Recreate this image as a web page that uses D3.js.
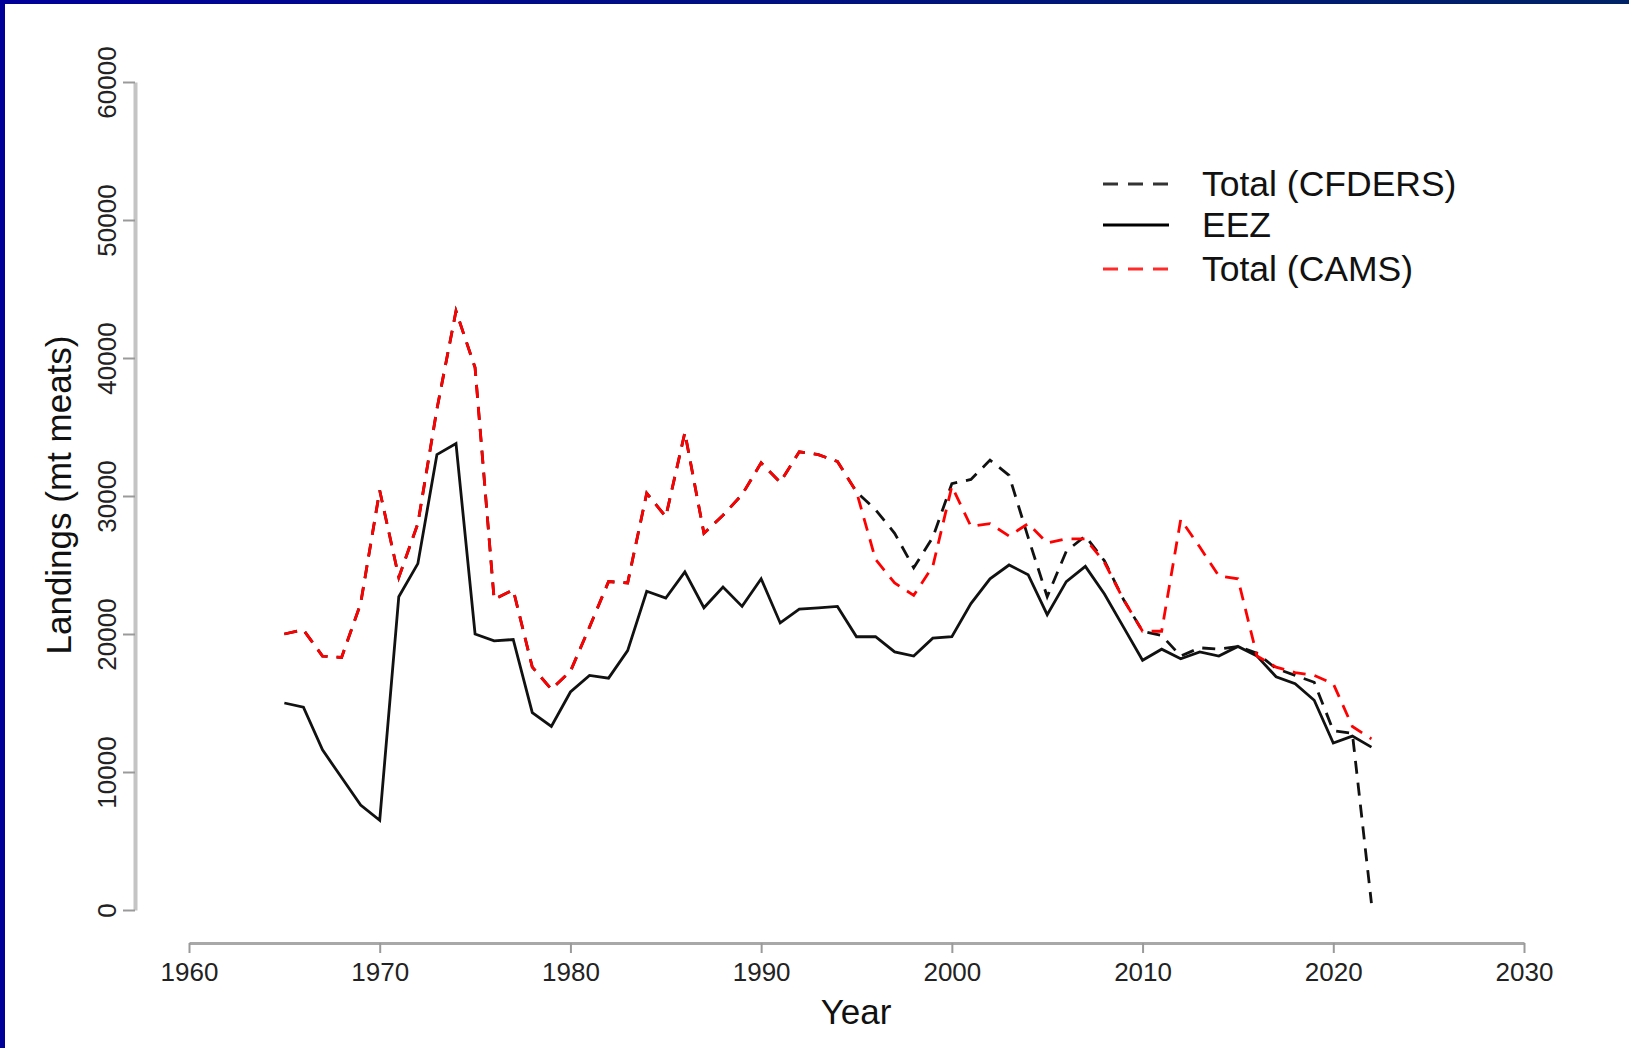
<!DOCTYPE html>
<html>
<head>
<meta charset="utf-8">
<script src="https://cdn.jsdelivr.net/npm/d3@7"></script>
<style>
  html, body { margin: 0; padding: 0; background: #ffffff; }
  svg { display: block; }
  text { font-family: "Liberation Sans", Arial, sans-serif; }
</style>
</head>
<body>
<svg id="chart" width="1629" height="1048"></svg>
<script>
// ---------------- data ----------------
const years = [1965,1966,1967,1968,1969,1970,1971,1972,1973,1974,1975,1976,1977,1978,1979,
  1980,1981,1982,1983,1984,1985,1986,1987,1988,1989,1990,1991,1992,1993,1994,1995,1996,1997,
  1998,1999,2000,2001,2002,2003,2004,2005,2006,2007,2008,2009,2010,2011,2012,2013,2014,2015,
  2016,2017,2018,2019,2020,2021,2022];

const eez = [15000,14700,11600,9600,7600,6500,22700,25100,33000,33800,20000,19500,19600,14300,13300,
  15800,17000,16800,18800,23100,22600,24500,21900,23400,22000,24000,20800,21800,21900,22000,19800,19800,18700,
  18400,19700,19800,22200,24000,25000,24300,21400,23800,24900,22900,20500,18100,18900,18200,18700,18400,19100,
  18400,16900,16400,15200,12100,12600,11800];

const totalCAMS = [20000,20300,18400,18300,22200,30400,24100,28000,36300,43400,39300,22500,23200,17600,16000,
  17300,20500,23800,23700,30200,28500,34600,27300,28600,30100,32400,31000,33200,33000,32500,30300,25400,23700,
  22800,24900,30700,27800,28000,27100,28000,26600,26900,26900,25200,22500,20200,20200,28300,26300,24200,24000,
  18400,17600,17200,17000,16400,13300,12400];

const totalCFDERS = [20000,20300,18400,18300,22200,30400,24100,28000,36300,43400,39300,22500,23200,17600,16000,
  17300,20500,23800,23700,30200,28500,34600,27300,28600,30100,32400,31000,33200,33000,32500,30300,29000,27300,
  24800,27000,30900,31200,32600,31500,27000,22700,26000,27100,25300,22500,20200,19900,18400,19000,18900,19100,
  18600,17500,17000,16500,13000,12800,500];

const xTicks = [1960,1970,1980,1990,2000,2010,2020,2030];
const yTicks = [0,10000,20000,30000,40000,50000,60000];
const legendLabels = ["Total (CFDERS)", "EEZ", "Total (CAMS)"];

// ---------------- drawing ----------------
const svg = d3.select("#chart");

// frame (blue border top and left)
const defs = svg.append("defs");
const grad = defs.append("linearGradient").attr("id","topbar").attr("x1","0%").attr("x2","100%");
grad.append("stop").attr("offset","0%").attr("stop-color","#000099");
grad.append("stop").attr("offset","100%").attr("stop-color","#002266");
svg.append("rect").attr("x",0).attr("y",0).attr("width",1629).attr("height",1048).attr("fill","#ffffff");
svg.append("rect").attr("x",0).attr("y",0).attr("width",1629).attr("height",4).attr("fill","url(#topbar)");
svg.append("rect").attr("x",0).attr("y",0).attr("width",5).attr("height",1048).attr("fill","#000099");

const x = d3.scaleLinear().domain([1960, 2030]).range([189, 1524]);
const y = d3.scaleLinear().domain([0, 60000]).range([910, 82]);

// y axis
const yAxisG = svg.append("g").attr("transform","translate(135,0)")
  .call(d3.axisLeft(y).tickValues(yTicks).tickSize(12).tickSizeOuter(0).tickFormat(d3.format("d")));
yAxisG.select(".domain").attr("stroke","#c4c4c4").attr("stroke-width",4);
yAxisG.selectAll(".tick line").attr("stroke","#9a9a9a").attr("stroke-width",2);
yAxisG.selectAll(".tick text")
  .attr("x",0).attr("y",0)
  .attr("transform","translate(-36,0) rotate(-90)")
  .attr("text-anchor","middle")
  .attr("dominant-baseline","central")
  .attr("font-size",26)
  .attr("fill","#222");

// x axis
const xAxisG = svg.append("g").attr("transform","translate(0,943)")
  .call(d3.axisBottom(x).tickValues(xTicks).tickSize(10).tickSizeOuter(0).tickFormat(d3.format("d")));
xAxisG.select(".domain").attr("stroke","#a8a8a8").attr("stroke-width",3);
xAxisG.selectAll(".tick line").attr("stroke","#9a9a9a").attr("stroke-width",2);
xAxisG.selectAll(".tick text")
  .attr("y",29).attr("dy","0.35em")
  .attr("font-size",26)
  .attr("fill","#222");

// axis titles
svg.append("text").attr("x",856).attr("y",1011).attr("text-anchor","middle")
  .attr("dominant-baseline","central").attr("font-size",35).attr("fill","#111").text("Year");
svg.append("text").attr("transform","translate(58,495) rotate(-90)").attr("text-anchor","middle")
  .attr("dominant-baseline","central").attr("font-size",35).attr("fill","#111").text("Landings (mt meats)");

// lines
const line = vals => d3.line().x((d,i) => x(years[i])).y(d => y(d))(vals);

svg.append("path").attr("d", line(totalCFDERS)).attr("fill","none")
  .attr("stroke","#111").attr("stroke-width",2.8).attr("stroke-dasharray","13,9");
svg.append("path").attr("d", line(eez)).attr("fill","none")
  .attr("stroke","#111").attr("stroke-width",2.8);
svg.append("path").attr("d", line(totalCAMS)).attr("fill","none")
  .attr("stroke","#ff0000").attr("stroke-width",2.8).attr("stroke-dasharray","13,9");

// legend
const legendStyles = [
  {stroke:"#333", dash:"15,10"},
  {stroke:"#000", dash:null},
  {stroke:"#ff2a2a", dash:"15,10"}
];
const legendY = [184, 225, 269];
const lg = svg.append("g");
legendLabels.forEach((lab, i) => {
  const l = lg.append("line").attr("x1",1103).attr("x2",1169)
    .attr("y1",legendY[i]).attr("y2",legendY[i])
    .attr("stroke",legendStyles[i].stroke).attr("stroke-width",3);
  if (legendStyles[i].dash) l.attr("stroke-dasharray",legendStyles[i].dash);
  lg.append("text").attr("x",1202).attr("y",legendY[i]).attr("dominant-baseline","central")
    .attr("font-size",35.5).attr("fill","#111").text(lab);
});
</script>
</body>
</html>
